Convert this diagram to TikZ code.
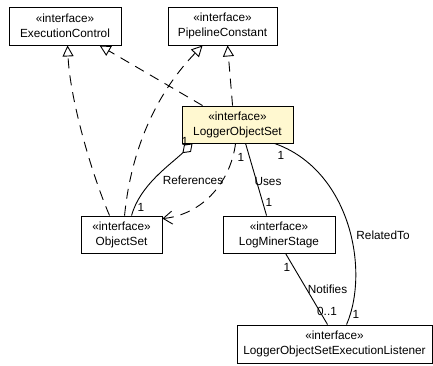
\documentclass[tikz,border=0pt]{standalone}
\usepackage{fontspec}
\setmainfont{Liberation Sans}
\definecolor{ifaceyellow}{RGB}{255, 248, 208}
\usepackage{tikz}
\usetikzlibrary{arrows.meta, calc}

\begin{document}
\begin{tikzpicture}[x=1pt, y=-1pt, line width=0.9pt,
    iface/.style={draw, fill=white, rectangle, align=center, inner sep=0pt, minimum height=37pt, font=\fontsize{11.8}{15}\selectfont},
    lbl/.style={inner sep=0pt, font=\fontsize{11.8}{14}\selectfont},
    realize/.style={dash pattern=on 10pt off 7pt, -{Triangle[open, length=11pt, width=11pt]}},
    dep/.style={dash pattern=on 10pt off 7pt, -{Straight Barb[length=9pt, width=13pt]}},
    aggr/.style={{Diamond[open, length=14pt, width=10pt]}-},
    assoc/.style={}]
  \useasboundingbox (0,0) rectangle (433,365);

  % Interfaces
  \node[iface, minimum width=112pt, minimum height=38pt] (execctl) at (65,26) {«interface»\\ExecutionControl};
  \node[iface, minimum width=109pt, minimum height=38pt] (pipeconst) at (222.5,26) {«interface»\\PipelineConstant};
  \node[iface, fill=ifaceyellow, minimum width=111pt] (logset) at (237.5,124.5) {«interface»\\LoggerObjectSet};
  \node[iface, minimum width=81pt] (objset) at (121.5,234.5) {«interface»\\ObjectSet};
  \node[iface, minimum width=112pt] (minerstage) at (279,234.5) {«interface»\\LogMinerStage};
  \node[iface, minimum width=195pt, minimum height=38pt] (listener) at (334.5,344) {«interface»\\LoggerObjectSetExecutionListener};

  % Realizations
  \draw[realize] ([xshift=29pt]objset.north west) .. controls (92,175) and (70,100) .. ([xshift=59pt]execctl.south west);
  \draw[realize] ([xshift=21pt]logset.north west) -- ([xshift=91pt]execctl.south west);
  \draw[realize] ([xshift=44pt]objset.north west) .. controls (130,160) and (150,100) .. ([xshift=35pt]pipeconst.south west);
  \draw[realize] ([xshift=51pt]logset.north west) -- ([xshift=60pt]pipeconst.south west);

  % References
  \draw[aggr] ([xshift=11pt]logset.south west) .. controls (170,165) and (140,185) .. ([xshift=51pt]objset.north west);
  \node[lbl] (refsrc) at (185,141) {1};
  \node[lbl] (refname) at (193,180) {References};
  \node[lbl] (refdst) at (141,207) {1};

  % Dependency
  \draw[dep] ([xshift=54pt]logset.south west) .. controls (230,185) and (200,215) .. ([yshift=-3pt]objset.north east);

  % Uses
  \draw[assoc] ([xshift=64pt]logset.south west) -- ([xshift=44pt]minerstage.north west);
  \node[lbl] (usesrc) at (241,157) {1};
  \node[lbl] (usename) at (268,181) {Uses};
  \node[lbl] (usedst) at (269,202) {1};

  % RelatedTo
  \draw[assoc] ([xshift=93pt]logset.south west) .. controls (350,170) and (370,270) .. ([xshift=110pt]listener.north west);
  \node[lbl] (relsrc) at (281,155) {1};
  \node[lbl] (relname) at (383,235) {RelatedTo};
  \node[lbl] (reldst) at (356,314) {1};

  % Notifies
  \draw[assoc] ([xshift=63pt]minerstage.south west) -- ([xshift=91pt]listener.north west);
  \node[lbl] (notsrc) at (287,267) {1};
  \node[lbl] (notname) at (327.5,289) {Notifies};
  \node[lbl] (notdst) at (327,311) {0..1};
\end{tikzpicture}
\end{document}
